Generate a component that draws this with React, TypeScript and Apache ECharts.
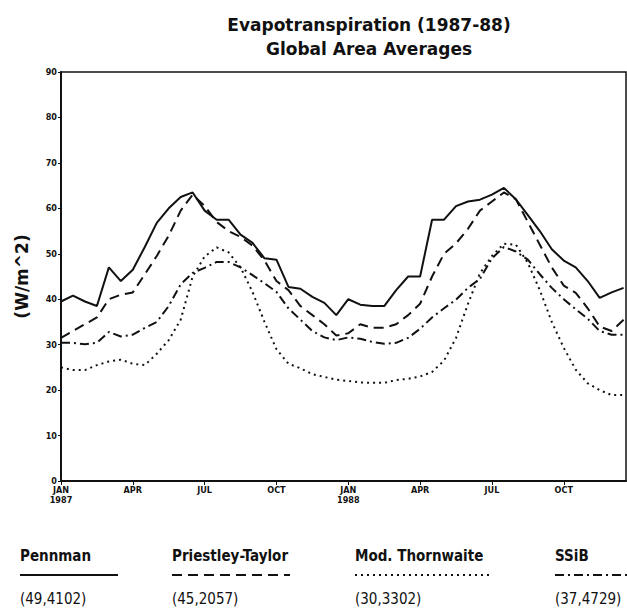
import React, { useEffect, useRef } from "react";
import * as echarts from "echarts";

// Months since January 1987 (half-month steps)
const months = [
  0, 0.5, 1, 1.5, 2, 2.5, 3, 3.5, 4, 4.5, 5, 5.5, 6, 6.5, 7, 7.5, 8, 8.5, 9, 9.5, 10, 10.5, 11, 11.5,
  12, 12.5, 13, 13.5, 14, 14.5, 15, 15.5, 16, 16.5, 17, 17.5, 18, 18.5, 19, 19.5, 20, 20.5, 21, 21.5,
  22, 22.5, 23, 23.5,
];

const penmann = [
  39.5, 40.8, 39.5, 38.5, 47, 44, 46.5, 51.5, 56.8, 60, 62.5, 63.5, 59.5, 57.5, 57.5, 54.2, 52.4, 49,
  48.7, 42.7, 42.3, 40.5, 39.2, 36.5, 40, 38.8, 38.5, 38.5, 42, 45, 45, 57.5, 57.5, 60.5, 61.5, 61.9,
  63, 64.5, 62, 58.5, 55, 51, 48.5, 47, 44, 40.3, 41.5, 42.5,
];

const priestleyTaylor = [
  31.5, 33, 34.5, 36, 40, 41, 41.5, 45.5, 49.5, 54, 59.5, 63, 60.5, 57, 55, 53.7, 51.8, 48.5, 44, 42,
  38.5, 36.5, 34.5, 32, 32.5, 34.5, 33.7, 33.7, 34.5, 36.5, 39, 45, 50, 52.3, 55.5, 59.5, 61.5, 63.5,
  62, 57, 52, 47, 43, 41.4, 38, 34, 33, 35.5,
];

const modThornwaite = [
  25, 24.4, 24.4, 25.5, 26.3, 26.7, 25.8, 25.5, 28, 31, 35.5, 45, 49.4, 51.4, 50.3, 47, 41.6, 35, 29,
  25.8, 24.8, 23.5, 22.9, 22.3, 22, 21.7, 21.6, 21.6, 22.2, 22.5, 23, 24, 26.5, 31.5, 39, 45.7, 49.5,
  52.2, 52, 48, 42, 35, 29.3, 24.5, 21.5, 20, 18.9, 18.9,
];

const ssib = [
  30.4, 30.4, 30.1, 30.4, 32.8, 31.8, 32.2, 33.7, 35, 38.5, 43.3, 45.8, 46.9, 48.2, 48.2, 47, 45.3,
  43.5, 41.6, 38, 35.5, 33, 31.6, 31, 31.6, 31.3, 30.6, 30.2, 30.4, 31.5, 33.5, 36, 38, 39.9, 42.5,
  44.5, 49, 51.5, 50.5, 48.7, 45.5, 42.5, 40, 37.8, 35.7, 33, 32.2, 32.2,
];

const xTickLabels: Record<number, string> = {
  0: "JAN\n1987",
  3: "APR",
  6: "JUL",
  9: "OCT",
  12: "JAN\n1988",
  15: "APR",
  18: "JUL",
  21: "OCT",
};

const legendNames = ["Pennman", "Priestley-Taylor", "Mod. Thornwaite", "SSiB"];
const legendStats = ["(49,4102)", "(45,2057)", "(30,3302)", "(37,4729)"];

export default function App() {
  const ref = useRef<HTMLDivElement>(null);
  useEffect(() => {
    if (!ref.current) return;
    const chart = echarts.init(ref.current, undefined, { renderer: "svg" });
    const pair = (vals: number[]) => months.map((m, i) => [m, vals[i]]);
    const lineDashes: (number[] | "solid")[] = ["solid", [10, 6], [2, 4], [9, 4, 2, 4]];
    const seriesVals = [penmann, priestleyTaylor, modThornwaite, ssib];
    const legendX = [20, 172, 355, 555];
    const legendLen = [98, 118, 135, 72];
    const font = "'Liberation Sans Narrow', 'DejaVu Sans Condensed', sans-serif";

    const graphics: any[] = [];
    legendNames.forEach((n, i) => {
      graphics.push({
        type: "text",
        left: legendX[i],
        top: 548,
        style: { text: n, fontSize: 15, fontWeight: "bold", fontFamily: font, fill: "#111" },
      });
      graphics.push({
        type: "line",
        shape: { x1: legendX[i], y1: 575, x2: legendX[i] + legendLen[i], y2: 575 },
        style: {
          stroke: "#111",
          lineWidth: 2,
          lineDash: lineDashes[i] === "solid" ? null : lineDashes[i],
        },
      });
      graphics.push({
        type: "text",
        left: legendX[i],
        top: 591,
        style: { text: legendStats[i], fontSize: 15, fontFamily: font, fill: "#111" },
      });
    });

    chart.setOption({
      animation: false,
      backgroundColor: "#fff",
      title: {
        text: "Evapotranspiration (1987-88)\nGlobal Area Averages",
        left: 364,
        textAlign: "center",
        top: 8,
        textStyle: {
          fontSize: 17,
          fontWeight: "bold",
          fontFamily: "'DejaVu Sans', sans-serif",
          color: "#111",
          lineHeight: 24,
        },
      },
      grid: {
        left: 61,
        right: 1,
        top: 72,
        bottom: 132,
        show: true,
        borderColor: "#111",
        borderWidth: 1.5,
      },
      xAxis: {
        type: "value",
        min: 0,
        max: 23.6,
        interval: 3,
        splitLine: { show: false },
        axisLine: { lineStyle: { color: "#111", width: 2 } },
        axisTick: { show: true, length: 4, lineStyle: { color: "#111" } },
        axisLabel: {
          showMaxLabel: false,
          fontSize: 9,
          fontWeight: "bold",
          color: "#111",
          lineHeight: 10,
          margin: 4,
          fontFamily: "'DejaVu Sans Condensed', sans-serif",
          formatter: (v: number) => xTickLabels[v] ?? "",
        },
      },
      yAxis: {
        type: "value",
        min: 0,
        max: 90,
        interval: 10,
        splitLine: { show: false },
        axisLine: { show: true, lineStyle: { color: "#111", width: 2 } },
        axisTick: { show: true, length: 3, lineStyle: { color: "#111" } },
        axisLabel: {
          fontSize: 9,
          fontWeight: "bold",
          color: "#111",
          margin: 4,
          fontFamily: "'DejaVu Sans Condensed', sans-serif",
        },
        name: "(W/m^2)",
        nameLocation: "middle",
        nameRotate: 90,
        nameGap: 31,
        nameTextStyle: {
          fontSize: 17,
          fontWeight: "bold",
          color: "#111",
          fontFamily: "'DejaVu Sans', sans-serif",
        },
      },
      series: seriesVals.map((vals, i) => ({
        name: legendNames[i],
        type: "line",
        data: pair(vals),
        showSymbol: false,
        symbol: "none",
        lineStyle: {
          color: "#111",
          width: 2,
          type: lineDashes[i],
        },
      })),
      graphic: graphics,
    });
    return () => chart.dispose();
  }, []);
  return <div ref={ref} style={{ width: 627, height: 613, position: "absolute", left: 0, top: 0 }} />;
}
